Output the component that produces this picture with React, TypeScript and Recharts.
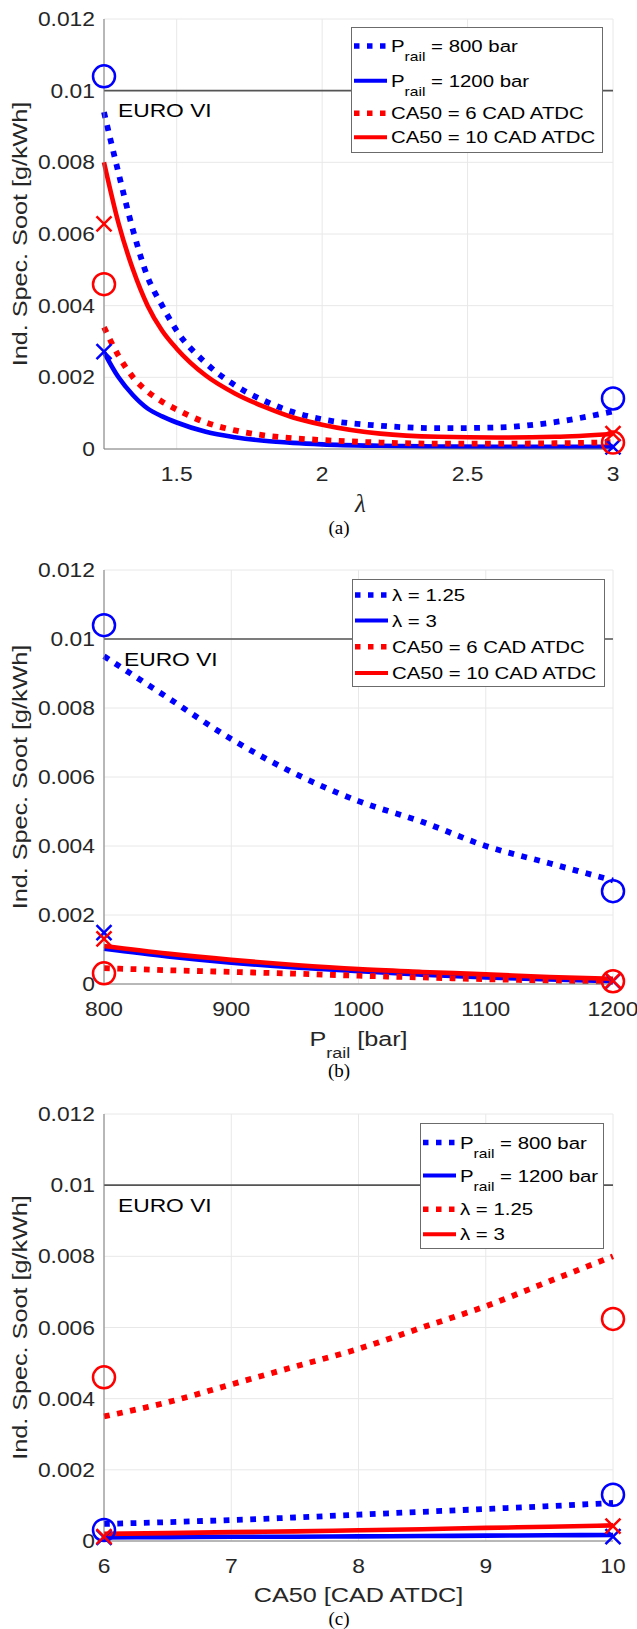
import React from 'react';
import { ComposedChart, Line, Scatter, XAxis, YAxis, CartesianGrid, ReferenceLine, Legend } from 'recharts';

const SANS = '"Liberation Sans", Arial, Helvetica, sans-serif';
const SERIF = '"Liberation Serif", "Times New Roman", serif';
const BLUE = '#0000ff';
const RED = '#ff0000';

// ---------- data ----------
const Y_TICKS = [0, 0.002, 0.004, 0.006, 0.008, 0.01, 0.012];
const EURO_VI = 0.01;

// panel (a): lambda sweep
const A_LAMBDA = [1.25, 1.3, 1.35, 1.4, 1.45, 1.5, 1.6, 1.7, 1.8, 1.9, 2.0, 2.2, 2.4, 2.6, 2.8, 3.0];
const A_P800 = [0.0094, 0.0077, 0.0061, 0.0048, 0.004, 0.0033, 0.0024, 0.00178, 0.00135, 0.00103, 0.00083, 0.00065, 0.00058, 0.0006, 0.00075, 0.00105];
const A_P1200 = [0.0027, 0.002, 0.0015, 0.00113, 0.00091, 0.00074, 0.00048, 0.00033, 0.00023, 0.00017, 0.00013, 0.00009, 0.00007, 0.00006, 0.00006, 0.00006];
const A_CA6 = [0.0034, 0.0026, 0.002, 0.0016, 0.00132, 0.0011, 0.00074, 0.00052, 0.00038, 0.0003, 0.00025, 0.00018, 0.00015, 0.00015, 0.00016, 0.00019];
const A_CA10 = [0.008, 0.0063, 0.005, 0.004, 0.0033, 0.0028, 0.00205, 0.00155, 0.00118, 0.00088, 0.00068, 0.00043, 0.00034, 0.00032, 0.00034, 0.00042];
const A_X_TICKS = [1.5, 2, 2.5, 3];
const A_MEAS_X = [1.25, 3];
const A_P800_MEAS = [0.0104, 0.00141];
const A_P1200_MEAS = [0.00272, 0.00006];
const A_CA6_MEAS = [0.0046, 0.00018];
const A_CA10_MEAS = [0.00628, 0.00043];

// panel (b): rail pressure sweep
const B_PRAIL = [800, 850, 900, 950, 1000, 1050, 1100, 1150, 1200];
const B_L125 = [0.0095, 0.0083, 0.0071, 0.0061, 0.0053, 0.0047, 0.004, 0.0035, 0.003];
const B_L3 = [0.00102, 0.0008, 0.00062, 0.00048, 0.00037, 0.00027, 0.00019, 0.00013, 0.00008];
const B_CA6 = [0.00046, 0.0004, 0.00035, 0.0003, 0.00024, 0.00019, 0.00014, 0.0001, 0.00007];
const B_CA10 = [0.0011, 0.00088, 0.0007, 0.00055, 0.00043, 0.00035, 0.00028, 0.0002, 0.00015];
const B_X_TICKS = [800, 900, 1000, 1100, 1200];
const B_MEAS_X = [800, 1200];
const B_L125_MEAS = [0.0104, 0.00269];
const B_L3_MEAS = [0.00149, 0.00008];
const B_CA6_MEAS = [0.00031, 0.00008];
const B_CA10_MEAS = [0.00131, 0.0001];

// panel (c): CA50 sweep
const C_CA50 = [6, 6.5, 7, 7.5, 8, 8.5, 9, 9.5, 10];
const C_P800 = [0.00048, 0.00053, 0.00059, 0.00066, 0.00074, 0.00082, 0.0009, 0.00098, 0.00107];
const C_P1200 = [0.0001, 0.00011, 0.00012, 0.00012, 0.00013, 0.00014, 0.00015, 0.00016, 0.00017];
const C_L125 = [0.0035, 0.0039, 0.0044, 0.0049, 0.0054, 0.006, 0.0066, 0.0073, 0.008];
const C_L3 = [0.0002, 0.00022, 0.00025, 0.00027, 0.0003, 0.00033, 0.00037, 0.0004, 0.00044];
const C_X_TICKS = [6, 7, 8, 9, 10];
const C_MEAS_X = [6, 10];
const C_P800_MEAS = [0.00031, 0.0013];
const C_P1200_MEAS = [0.0001, 0.00012];
const C_L125_MEAS = [0.0046, 0.00624];
const C_L3_MEAS = [0.00012, 0.00042];

const zip = (xs: number[], ys: number[]) => xs.map((x, i) => ({ x, y: ys[i] }));

// ---------- helpers ----------
function SText({ x, y, size, anchor = 'start', sx = 1.2, rotate = 0, family = SANS, fill = '#262626', italic = false, children }: any) {
  const t = `translate(${x} ${y})${rotate ? ` rotate(${rotate})` : ''} scale(${sx} 1)`;
  return (
    <text transform={t} x={0} y={0} fontSize={size} textAnchor={anchor} fontFamily={family} fill={fill} fontStyle={italic ? 'italic' : 'normal'}>
      {children}
    </text>
  );
}

const fmtY = (v: number) => String(parseFloat(v.toFixed(3)));

const YTick = (p: any) => (
  <SText x={p.x - 9} y={p.y + 7} anchor="end" size={19.5} sx={1.17}>{fmtY(p.payload.value)}</SText>
);

const circleShape = (color: string) => (p: any) =>
  p.cx == null ? <g /> : <circle cx={p.cx} cy={p.cy} r={11} fill="none" stroke={color} strokeWidth={2.5} />;
const crossShape = (color: string) => (p: any) =>
  p.cx == null ? <g /> : (
    <path d={`M${p.cx - 7.5},${p.cy - 7.5}L${p.cx + 7.5},${p.cy + 7.5}M${p.cx - 7.5},${p.cy + 7.5}L${p.cx + 7.5},${p.cy - 7.5}`} stroke={color} strokeWidth={2.5} fill="none" />
  );

type Entry = { main: string; sub?: string; rest: string; color: string; dashed: boolean };

function LegendBox({ cfg }: any) {
  return (
    <svg width={cfg.w} height={cfg.h} style={{ display: 'block', overflow: 'visible' }}>
      <rect x={0.5} y={0.5} width={cfg.w - 1} height={cfg.h - 1} fill="#ffffff" stroke="#6b6b6b" strokeWidth={1} />
      {cfg.entries.map((e: Entry, i: number) => {
        const y = cfg.rows[i];
        return (
          <g key={i}>
            <line x1={3} x2={36} y1={y} y2={y} stroke={e.color} strokeWidth={e.dashed ? 5.5 : 4} strokeDasharray={e.dashed ? '5.5 7.5' : undefined} />
            <SText x={40} y={y + 6} size={17} fill="#000000">
              {e.main}
              {e.sub ? <tspan dy={9} fontSize={13}>{e.sub}</tspan> : null}
              {e.sub ? <tspan dy={-9}>{e.rest}</tspan> : <tspan>{e.rest}</tspan>}
            </SText>
          </g>
        );
      })}
    </svg>
  );
}

function Panel(p: any) {
  const plotH = p.plotH;
  const height = p.height;
  const axisY = p.mt + plotH;
  return (
    <div style={{ position: 'absolute', left: 0, top: p.top, width: 637, height }}>
      <ComposedChart width={637} height={height} margin={{ top: p.mt, right: 24, bottom: height - p.mt - plotH - 60, left: 0 }}>
        <CartesianGrid stroke="#e8e8e8" strokeWidth={1} />
        <XAxis
          type="number"
          dataKey="x"
          domain={p.domain}
          ticks={p.ticks}
          interval={0}
          height={60}
          tickLine={false}
          tickSize={0}
          tickMargin={0}
          axisLine={{ stroke: '#7d7d7d', strokeWidth: 1 }}
          tick={(t: any) => (
            <SText x={t.x} y={axisY + 31.5} anchor="middle" size={19.5} sx={1.17}>{String(t.payload.value)}</SText>
          )}
        />
        <YAxis
          type="number"
          dataKey="y"
          domain={[0, 0.012]}
          ticks={Y_TICKS}
          interval={0}
          width={104}
          tickLine={false}
          tickSize={0}
          tickMargin={0}
          axisLine={{ stroke: '#7d7d7d', strokeWidth: 1 }}
          tick={(t: any) => <YTick {...t} />}
          label={(lp: any) => (
            <SText x={lp.viewBox.x + 27} y={lp.viewBox.y + lp.viewBox.height / 2} rotate={-90} anchor="middle" size={21}>
              Ind. Spec. Soot [g/kWh]
            </SText>
          )}
        />
        <ReferenceLine
          y={EURO_VI}
          stroke="#555555"
          strokeWidth={1.6}
          ifOverflow="visible"
          label={(lp: any) => (
            <SText x={lp.viewBox.x + p.euroDx} y={lp.viewBox.y + 26.5} size={19} fill="#000000">EURO VI</SText>
          )}
        />
        {p.series.map((s: any) => (
          <Line
            key={s.name}
            name={s.name}
            data={s.data}
            dataKey="y"
            type="monotone"
            stroke={s.color}
            strokeWidth={s.dashed ? 5.8 : 4.6}
            strokeDasharray={s.dashed ? '5.8 7.5' : undefined}
            dot={false}
            activeDot={false}
            isAnimationActive={false}
            legendType="none"
          />
        ))}
        {p.markers.map((m: any) => (
          <Scatter
            key={m.name}
            name={m.name}
            data={m.data}
            dataKey="y"
            shape={m.kind === 'o' ? circleShape(m.color) : crossShape(m.color)}
            isAnimationActive={false}
            legendType="none"
          />
        ))}
        <Legend
          layout="vertical"
          align="center"
          verticalAlign="middle"
          wrapperStyle={{ position: 'absolute', left: p.legend.left, top: p.legend.top, width: p.legend.w, height: p.legend.h }}
          content={() => <LegendBox cfg={p.legend} />}
        />
      </ComposedChart>
      <svg width={637} height={height} style={{ position: 'absolute', left: 0, top: 0, pointerEvents: 'none' }}>
        {p.xLabel(358.5, axisY + p.xLabelDy)}
      </svg>
    </div>
  );
}

export default function App() {
  const panels = [
    {
      top: 0, height: 540, mt: 19, plotH: 430,
      domain: [1.25, 3], ticks: A_X_TICKS, euroDx: 14, xLabelDy: 63,
      xLabel: (x: number, y: number) => (
        <SText x={x + 2} y={y} anchor="middle" size={25} family={SERIF} italic sx={1} fill="#262626">λ</SText>
      ),
      series: [
        { name: 'Prail = 800 bar', data: zip(A_LAMBDA, A_P800), color: BLUE, dashed: true },
        { name: 'Prail = 1200 bar', data: zip(A_LAMBDA, A_P1200), color: BLUE, dashed: false },
        { name: 'CA50 = 6 CAD ATDC', data: zip(A_LAMBDA, A_CA6), color: RED, dashed: true },
        { name: 'CA50 = 10 CAD ATDC', data: zip(A_LAMBDA, A_CA10), color: RED, dashed: false },
      ],
      markers: [
        { name: 'm1', data: zip(A_MEAS_X, A_P800_MEAS), color: BLUE, kind: 'o' },
        { name: 'm2', data: zip(A_MEAS_X, A_P1200_MEAS), color: BLUE, kind: 'x' },
        { name: 'm3', data: zip(A_MEAS_X, A_CA6_MEAS), color: RED, kind: 'o' },
        { name: 'm4', data: zip(A_MEAS_X, A_CA10_MEAS), color: RED, kind: 'x' },
      ],
      legend: {
        left: 351, top: 27, w: 252, h: 126, rows: [19, 53.7, 86.3, 110.3],
        entries: [
          { main: 'P', sub: 'rail', rest: ' = 800 bar', color: BLUE, dashed: true },
          { main: 'P', sub: 'rail', rest: ' = 1200 bar', color: BLUE, dashed: false },
          { main: 'CA50 = 6 CAD ATDC', rest: '', color: RED, dashed: true },
          { main: 'CA50 = 10 CAD ATDC', rest: '', color: RED, dashed: false },
        ],
      },
    },
    {
      top: 545, height: 540, mt: 25, plotH: 414,
      domain: [800, 1200], ticks: B_X_TICKS, euroDx: 20, xLabelDy: 61.5,
      xLabel: (x: number, y: number) => (
        <SText x={x} y={y} anchor="middle" size={21}>
          P<tspan dy={12} fontSize={15}>rail</tspan><tspan dy={-12}> [bar]</tspan>
        </SText>
      ),
      series: [
        { name: 'λ = 1.25', data: zip(B_PRAIL, B_L125), color: BLUE, dashed: true },
        { name: 'λ = 3', data: zip(B_PRAIL, B_L3), color: BLUE, dashed: false },
        { name: 'CA50 = 6 CAD ATDC', data: zip(B_PRAIL, B_CA6), color: RED, dashed: true },
        { name: 'CA50 = 10 CAD ATDC', data: zip(B_PRAIL, B_CA10), color: RED, dashed: false },
      ],
      markers: [
        { name: 'm1', data: zip(B_MEAS_X, B_L125_MEAS), color: BLUE, kind: 'o' },
        { name: 'm2', data: zip(B_MEAS_X, B_L3_MEAS), color: BLUE, kind: 'x' },
        { name: 'm3', data: zip(B_MEAS_X, B_CA6_MEAS), color: RED, kind: 'o' },
        { name: 'm4', data: zip(B_MEAS_X, B_CA10_MEAS), color: RED, kind: 'x' },
      ],
      legend: {
        left: 352, top: 34, w: 253, h: 108, rows: [16, 41.5, 67.8, 94],
        entries: [
          { main: 'λ = 1.25', rest: '', color: BLUE, dashed: true },
          { main: 'λ = 3', rest: '', color: BLUE, dashed: false },
          { main: 'CA50 = 6 CAD ATDC', rest: '', color: RED, dashed: true },
          { main: 'CA50 = 10 CAD ATDC', rest: '', color: RED, dashed: false },
        ],
      },
    },
    {
      top: 1090, height: 539, mt: 24, plotH: 427,
      domain: [6, 10], ticks: C_X_TICKS, euroDx: 14, xLabelDy: 61,
      xLabel: (x: number, y: number) => (
        <SText x={x} y={y} anchor="middle" size={21}>CA50 [CAD ATDC]</SText>
      ),
      series: [
        { name: 'Prail = 800 bar', data: zip(C_CA50, C_P800), color: BLUE, dashed: true },
        { name: 'Prail = 1200 bar', data: zip(C_CA50, C_P1200), color: BLUE, dashed: false },
        { name: 'λ = 1.25', data: zip(C_CA50, C_L125), color: RED, dashed: true },
        { name: 'λ = 3', data: zip(C_CA50, C_L3), color: RED, dashed: false },
      ],
      markers: [
        { name: 'm1', data: zip(C_MEAS_X, C_P800_MEAS), color: BLUE, kind: 'o' },
        { name: 'm2', data: zip(C_MEAS_X, C_P1200_MEAS), color: BLUE, kind: 'x' },
        { name: 'm3', data: zip(C_MEAS_X, C_L125_MEAS), color: RED, kind: 'o' },
        { name: 'm4', data: zip(C_MEAS_X, C_L3_MEAS), color: RED, kind: 'x' },
      ],
      legend: {
        left: 420, top: 32.7, w: 184, h: 126, rows: [19.6, 52.5, 86.2, 111.3],
        entries: [
          { main: 'P', sub: 'rail', rest: ' = 800 bar', color: BLUE, dashed: true },
          { main: 'P', sub: 'rail', rest: ' = 1200 bar', color: BLUE, dashed: false },
          { main: 'λ = 1.25', rest: '', color: RED, dashed: true },
          { main: 'λ = 3', rest: '', color: RED, dashed: false },
        ],
      },
    },
  ];
  const captions = [
    { text: '(a)', y: 533.5 },
    { text: '(b)', y: 1077 },
    { text: '(c)', y: 1625 },
  ];
  return (
    <div style={{ position: 'absolute', left: 0, top: 0, width: 637, height: 1629, background: '#ffffff', overflow: 'hidden' }}>
      {panels.map((p, i) => <Panel key={i} {...p} />)}
      <svg width={637} height={1629} style={{ position: 'absolute', left: 0, top: 0, pointerEvents: 'none' }}>
        {captions.map((c) => (
          <text key={c.text} x={339} y={c.y} textAnchor="middle" fontFamily={SERIF} fontSize={19} fill="#000000">{c.text}</text>
        ))}
      </svg>
    </div>
  );
}
